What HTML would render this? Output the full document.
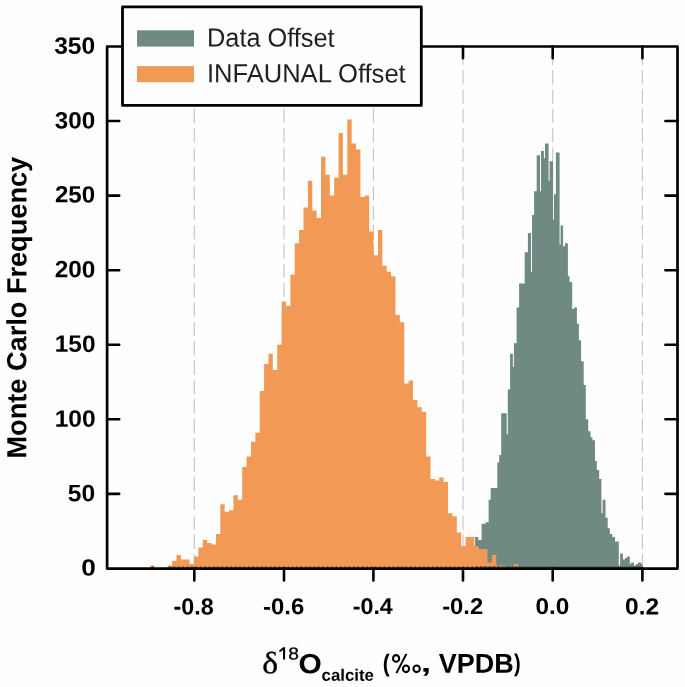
<!DOCTYPE html>
<html><head><meta charset="utf-8"><style>
html,body{margin:0;padding:0;background:#fefefe;font-family:"Liberation Sans",sans-serif;}
body{width:685px;height:687px;overflow:hidden;}
svg{display:block;will-change:transform;}
</style></head><body>
<svg width="685" height="687" viewBox="0 0 685 687">
<rect width="685" height="687" fill="#fefefe"/>
<g stroke="#c8c8c8" stroke-width="1.2" stroke-dasharray="14.3 5.06" fill="none">
<line x1="194.3" y1="568.4" x2="194.3" y2="105.4"/>
<line x1="284" y1="568.4" x2="284" y2="105.4"/>
<line x1="373.4" y1="568.4" x2="373.4" y2="105.4"/>
<line x1="463" y1="568.4" x2="463" y2="46.5"/>
<line x1="552.7" y1="568.4" x2="552.7" y2="46.5"/>
<line x1="642.4" y1="568.4" x2="642.4" y2="46.5"/>
</g>
<path fill="#6f8a82" d="M475.1 568.4V537.09H478.1V540.07H481.6V523.67H485.6V522.18H488.6V499.81H490.7V487.88H493.8V487.88H497.3V462.53H499.2V455.08H501.2V413.33H506.7V434.2H507.8V389.47H510.1V353.68H512.9V367.1H513.9V343.24H516.6V307.46H519.1V283.6H524.7V252.29H527.9V232.9H531V271.67H532V215.01H534.1V191.15H536.7V155.37H540V191.15H541V150.89H543.9V158.35H545V143.44H548.6V180.71H549.6V161.33H553V219.48H554V194.13H555.9V152.38H559.6V244.83H560.6V225.45H563.1V246.32H564.9V243.34H567.9V276.14H569.6V282.11H572.2V308.95H574V307.46H576.9V323.86H578.9V340.26H581.1V361.14H583.7V384.99H585.8V419.29H588.2V431.22H590.5V437.18H592.4V440.17H595V461.04H596.8V469.99H599.2V478.93H601.4V513.23H602.6V499.81H605.5V517.7H607.7V528.14H609.9V534.1H612.3V537.09H615V541.56H618.8V565.42H620.1V553.49H622.9V559.45H625V557.96H627V556.47H629.8V563.93H631.1V562.44H633.9V565.42H636V563.93H638V562.44H641.1V563.93H642.3V568.4Z"/>
<path fill="#f39956" d="M150.2 568.4V565.42H154.58V568.4ZM167.72 568.4V565.42H172.1V568.4ZM172.1 568.4V560.94H176.48V568.4ZM176.48 568.4V554.98H180.86V568.4ZM180.86 568.4V559.45H185.24V568.4ZM185.24 568.4V559.45H189.62V568.4ZM189.62 568.4V563.93H194V568.4ZM194 568.4V556.47H198.38V568.4ZM198.38 568.4V547.52H202.76V568.4ZM202.76 568.4V540.07H207.14V568.4ZM207.14 568.4V543.05H211.52V568.4ZM211.52 568.4V544.54H215.9V568.4ZM215.9 568.4V534.1H220.28V568.4ZM220.28 568.4V504.28H224.66V568.4ZM224.66 568.4V511.74H229.04V568.4ZM229.04 568.4V510.25H233.42V568.4ZM233.42 568.4V495.34H237.8V568.4ZM237.8 568.4V499.81H242.18V568.4ZM242.18 568.4V467.01H246.56V568.4ZM246.56 568.4V456.57H250.94V568.4ZM250.94 568.4V441.66H255.32V568.4ZM255.32 568.4V432.71H259.7V568.4ZM259.7 568.4V390.96H264.08V568.4ZM264.08 568.4V364.12H268.46V568.4ZM268.46 568.4V353.68H272.84V568.4ZM272.84 568.4V370.08H277.22V568.4ZM277.22 568.4V344.73H281.6V568.4ZM281.6 568.4V301.49H285.98V568.4ZM285.98 568.4V305.97H290.36V568.4ZM290.36 568.4V274.65H294.74V568.4ZM294.74 568.4V243.34H299.12V568.4ZM299.12 568.4V229.92H303.5V568.4ZM303.5 568.4V207.55H307.88V568.4ZM307.88 568.4V180.71H312.26V568.4ZM312.26 568.4V210.54H316.64V568.4ZM316.64 568.4V217.99H321.02V568.4ZM321.02 568.4V156.86H325.4V568.4ZM325.4 568.4V174.75H329.78V568.4ZM329.78 568.4V195.62H334.16V568.4ZM334.16 568.4V177.73H338.54V568.4ZM338.54 568.4V133H342.92V568.4ZM342.92 568.4V174.75H347.3V568.4ZM347.3 568.4V119.58H351.68V568.4ZM351.68 568.4V143.44H356.06V568.4ZM356.06 568.4V149.4H360.44V568.4ZM360.44 568.4V197.12H364.82V568.4ZM364.82 568.4V195.62H369.2V568.4ZM369.2 568.4V231.41H373.58V568.4ZM373.58 568.4V255.27H377.96V568.4ZM377.96 568.4V229.92H382.34V568.4ZM382.34 568.4V265.71H386.72V568.4ZM386.72 568.4V271.67H391.1V568.4ZM391.1 568.4V276.14H395.48V568.4ZM395.48 568.4V314.91H399.86V568.4ZM399.86 568.4V322.37H404.24V568.4ZM404.24 568.4V383.5H408.62V568.4ZM408.62 568.4V380.52H413V568.4ZM413 568.4V399.91H417.38V568.4ZM417.38 568.4V407.36H421.76V568.4ZM421.76 568.4V411.83H426.14V568.4ZM426.14 568.4V456.57H430.52V568.4ZM430.52 568.4V478.93H434.9V568.4ZM434.9 568.4V480.43H439.28V568.4ZM439.28 568.4V477.44H443.66V568.4ZM443.66 568.4V481.92H448.04V568.4ZM448.04 568.4V513.23H452.42V568.4ZM452.42 568.4V516.21H456.8V568.4ZM456.8 568.4V532.61H461.18V568.4ZM461.18 568.4V546.03H465.56V568.4ZM465.56 568.4V537.09H469.94V568.4ZM469.94 568.4V537.09H474.32V568.4ZM474.32 568.4V546.03H478.7V568.4ZM478.7 568.4V549.02H483.08V568.4ZM483.08 568.4V549.02H487.46V568.4ZM487.46 568.4V562.44H491.84V568.4ZM491.84 568.4V554.98H496.22V568.4ZM496.22 568.4V565.42H500.6V568.4ZM500.6 568.4V565.42H504.98V568.4ZM513.74 568.4V563.93H518.12V568.4Z"/>
<path stroke="#6b3a1c" stroke-width="1.1" d="M151.69 566.9h1.4M169.21 566.9h1.4M173.59 566.9h1.4M177.97 566.9h1.4M182.35 566.9h1.4M186.73 566.9h1.4M191.11 566.9h1.4M195.49 566.9h1.4M199.87 566.9h1.4M204.25 566.9h1.4M208.63 566.9h1.4M213.01 566.9h1.4M217.39 566.9h1.4M221.77 566.9h1.4M226.15 566.9h1.4M230.53 566.9h1.4M234.91 566.9h1.4M239.29 566.9h1.4M243.67 566.9h1.4M248.05 566.9h1.4M252.43 566.9h1.4M256.81 566.9h1.4M261.19 566.9h1.4M265.57 566.9h1.4M269.95 566.9h1.4M274.33 566.9h1.4M278.71 566.9h1.4M283.09 566.9h1.4M287.47 566.9h1.4M291.85 566.9h1.4M296.23 566.9h1.4M300.61 566.9h1.4M304.99 566.9h1.4M309.37 566.9h1.4M313.75 566.9h1.4M318.13 566.9h1.4M322.51 566.9h1.4M326.89 566.9h1.4M331.27 566.9h1.4M335.65 566.9h1.4M340.03 566.9h1.4M344.41 566.9h1.4M348.79 566.9h1.4M353.17 566.9h1.4M357.55 566.9h1.4M361.93 566.9h1.4M366.31 566.9h1.4M370.69 566.9h1.4M375.07 566.9h1.4M379.45 566.9h1.4M383.83 566.9h1.4M388.21 566.9h1.4M392.59 566.9h1.4M396.97 566.9h1.4M401.35 566.9h1.4M405.73 566.9h1.4M410.11 566.9h1.4M414.49 566.9h1.4M418.87 566.9h1.4M423.25 566.9h1.4M427.63 566.9h1.4M432.01 566.9h1.4M436.39 566.9h1.4M440.77 566.9h1.4M445.15 566.9h1.4M449.53 566.9h1.4M453.91 566.9h1.4M458.29 566.9h1.4M462.67 566.9h1.4M467.05 566.9h1.4M471.43 566.9h1.4M475.81 566.9h1.4M480.19 566.9h1.4M484.57 566.9h1.4M488.95 566.9h1.4M493.33 566.9h1.4M497.71 566.9h1.4M502.09 566.9h1.4M515.23 566.9h1.4"/>
<path stroke="#2f3d39" stroke-width="1.1" d="M475.6 566.9h1.1M477.75 566.9h1.1M479.9 566.9h1.1M482.05 566.9h1.1M484.2 566.9h1.1M486.35 566.9h1.1M488.5 566.9h1.1M490.65 566.9h1.1M492.8 566.9h1.1M494.95 566.9h1.1M497.1 566.9h1.1M499.25 566.9h1.1M501.4 566.9h1.1M503.55 566.9h1.1M505.7 566.9h1.1M507.85 566.9h1.1M510 566.9h1.1M512.15 566.9h1.1M514.3 566.9h1.1M516.45 566.9h1.1M518.6 566.9h1.1M520.75 566.9h1.1M522.9 566.9h1.1M525.05 566.9h1.1M527.2 566.9h1.1M529.35 566.9h1.1M531.5 566.9h1.1M533.65 566.9h1.1M535.8 566.9h1.1M537.95 566.9h1.1M540.1 566.9h1.1M542.25 566.9h1.1M544.4 566.9h1.1M546.55 566.9h1.1M548.7 566.9h1.1M550.85 566.9h1.1M553 566.9h1.1M555.15 566.9h1.1M557.3 566.9h1.1M559.45 566.9h1.1M561.6 566.9h1.1M563.75 566.9h1.1M565.9 566.9h1.1M568.05 566.9h1.1M570.2 566.9h1.1M572.35 566.9h1.1M574.5 566.9h1.1M576.65 566.9h1.1M578.8 566.9h1.1M580.95 566.9h1.1M583.1 566.9h1.1M585.25 566.9h1.1M587.4 566.9h1.1M589.55 566.9h1.1M591.7 566.9h1.1M593.85 566.9h1.1M596 566.9h1.1M598.15 566.9h1.1M600.3 566.9h1.1M602.45 566.9h1.1M604.6 566.9h1.1M606.75 566.9h1.1M608.9 566.9h1.1M611.05 566.9h1.1M613.2 566.9h1.1M615.35 566.9h1.1M617.5 566.9h1.1M619.65 566.9h1.1M621.8 566.9h1.1M623.95 566.9h1.1M626.1 566.9h1.1M628.25 566.9h1.1M630.4 566.9h1.1M632.55 566.9h1.1M634.7 566.9h1.1M636.85 566.9h1.1M639 566.9h1.1M641.15 566.9h1.1" opacity="0.8"/>
<path fill="none" stroke="#000" stroke-width="2.7" d="M107.1 46.5H677.5V568.6H107.1Z" stroke-linejoin="round"/>
<path fill="none" stroke="#000" stroke-width="2.6" stroke-linecap="round" d="M194.3 568.4V580.5M284 568.4V580.5M373.4 568.4V580.5M463 568.4V580.5M463 46.5V58.3M552.7 568.4V580.5M552.7 46.5V58.3M642.4 568.4V580.5M642.4 46.5V58.3M107.1 493.84H119.2M677.5 493.84H665.4M107.1 419.29H119.2M677.5 419.29H665.4M107.1 344.73H119.2M677.5 344.73H665.4M107.1 270.18H119.2M677.5 270.18H665.4M107.1 195.62H119.2M677.5 195.62H665.4M107.1 121.07H119.2M677.5 121.07H665.4"/>
<rect x="122.5" y="6.9" width="298.8" height="98.5" fill="#fefefe" stroke="#000" stroke-width="2.8" stroke-linejoin="round"/>
<rect x="137" y="30.3" width="57" height="16.3" fill="#6f8a82"/>
<rect x="137" y="66.1" width="57" height="16.1" fill="#f39956"/>
<text transform="matrix(0.9665 0.001 0 1 207.01 46.54)" font-family="'Liberation Sans', sans-serif" font-weight="normal" font-size="26.21" fill="#231f20">Data Offset</text>
<text transform="matrix(0.9751 0.001 0 1 206.94 82.24)" font-family="'Liberation Sans', sans-serif" font-weight="normal" font-size="26.21" fill="#231f20">INFAUNAL Offset</text>
<text transform="matrix(1.0401 0.001 0 1 54.15 53.70)" font-family="'Liberation Sans', sans-serif" font-weight="bold" font-size="23.66" fill="#000">350</text>
<text transform="matrix(1.0243 0.001 0 1 54.75 128.40)" font-family="'Liberation Sans', sans-serif" font-weight="bold" font-size="23.66" fill="#000">300</text>
<text transform="matrix(1.0277 0.001 0 1 54.96 202.37)" font-family="'Liberation Sans', sans-serif" font-weight="bold" font-size="23.46" fill="#000">250</text>
<text transform="matrix(1.0287 0.001 0 1 54.65 277.36)" font-family="'Liberation Sans', sans-serif" font-weight="bold" font-size="23.75" fill="#000">200</text>
<text transform="matrix(1.0306 0.001 0 1 54.67 351.86)" font-family="'Liberation Sans', sans-serif" font-weight="bold" font-size="23.75" fill="#000">150</text>
<text transform="matrix(1.0360 0.001 0 1 54.66 426.66)" font-family="'Liberation Sans', sans-serif" font-weight="bold" font-size="23.75" fill="#000">100</text>
<text transform="matrix(1.0366 0.001 0 1 67.86 501.26)" font-family="'Liberation Sans', sans-serif" font-weight="bold" font-size="23.75" fill="#000">50</text>
<text transform="matrix(1.1216 0.001 0 1 81.15 575.47)" font-family="'Liberation Sans', sans-serif" font-weight="bold" font-size="23.46" fill="#000">0</text>
<text transform="matrix(1.0077 0.001 0 1 173.57 614.37)" font-family="'Liberation Sans', sans-serif" font-weight="bold" font-size="23.18" fill="#000">-0.8</text>
<text transform="matrix(1.0380 0.001 0 1 263.04 614.27)" font-family="'Liberation Sans', sans-serif" font-weight="bold" font-size="23.04" fill="#000">-0.6</text>
<text transform="matrix(1.0243 0.001 0 1 352.67 614.07)" font-family="'Liberation Sans', sans-serif" font-weight="bold" font-size="22.76" fill="#000">-0.4</text>
<text transform="matrix(1.0461 0.001 0 1 442.15 614.07)" font-family="'Liberation Sans', sans-serif" font-weight="bold" font-size="22.76" fill="#000">-0.2</text>
<text transform="matrix(1.0701 0.001 0 1 535.43 614.07)" font-family="'Liberation Sans', sans-serif" font-weight="bold" font-size="22.76" fill="#000">0.0</text>
<text transform="matrix(1.0444 0.001 0 1 625.02 614.37)" font-family="'Liberation Sans', sans-serif" font-weight="bold" font-size="23.46" fill="#000">0.2</text>
<text transform="matrix(0.0010 -0.9837 1 0 26.20 458.53)" font-family="'Liberation Sans', sans-serif" font-weight="bold" font-size="27.62" fill="#000">Monte Carlo Frequency</text>
<text transform="matrix(1.0916 0.001 0 1 262.34 673.29)" font-family="'Liberation Serif', serif" font-weight="normal" font-size="30.85" fill="#000" stroke="#000" stroke-width="0.35">δ</text>
<path fill="#000" d="M283 647.3H285.1V659.6H283V649.9L279.9 652.3L279 650.7Z"/>
<text transform="matrix(1.1015 0.001 0 1 288.29 659.43)" font-family="'Liberation Sans', sans-serif" font-weight="normal" font-size="17.39" fill="#000" stroke="#000" stroke-width="0.3">8</text>
<text transform="matrix(1.0748 0.001 0 1 298.50 673.32)" font-family="'Liberation Sans', sans-serif" font-weight="bold" font-size="27.84" fill="#000">O</text>
<text transform="matrix(1.0147 0.001 0 1 321.53 680.63)" font-family="'Liberation Sans', sans-serif" font-weight="bold" font-size="16.60" fill="#000">calcite</text>
<text transform="matrix(0.8580 0.001 0 1 382.65 671.50)" font-family="'Liberation Sans', sans-serif" font-weight="bold" font-size="24.56" fill="#000">(</text>
<g fill="none" stroke="#000" stroke-width="2.05"><ellipse cx="396.1" cy="658.4" rx="3.1" ry="3.3"/><ellipse cx="406.0" cy="668.8" rx="3.1" ry="3.3"/><ellipse cx="416.6" cy="668.8" rx="3.2" ry="3.3"/><path d="M406.4 653.9L396.4 673.1"/></g>
<text transform="matrix(1.4803 0.001 0 1 420.65 671.84)" font-family="'Liberation Sans', sans-serif" font-weight="bold" font-size="25.57" fill="#000">,</text>
<text transform="matrix(0.9864 0.001 0 1 438.70 672.70)" font-family="'Liberation Sans', sans-serif" font-weight="bold" font-size="27.35" fill="#000">VPDB</text>
<text transform="matrix(0.8109 0.001 0 1 513.95 671.18)" font-family="'Liberation Sans', sans-serif" font-weight="bold" font-size="24.66" fill="#000">)</text>
</svg>
</body></html>
